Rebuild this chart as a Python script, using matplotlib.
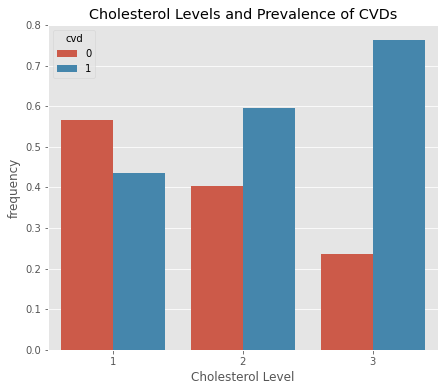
import matplotlib
matplotlib.use("Agg")
import matplotlib.pyplot as plt
import matplotlib.colors as mcolors
import colorsys
import numpy as np

plt.style.use("ggplot")

levels = ["1", "2", "3"]
cvd_labels = ["0", "1"]
freq_cvd0 = [0.565, 0.404, 0.237]
freq_cvd1 = [0.435, 0.596, 0.763]
base_colors = ["#E24A33", "#348ABD"]


def desaturate(c, prop=0.75):
    r, g, b = mcolors.to_rgb(c)
    h, l, s = colorsys.rgb_to_hls(r, g, b)
    return colorsys.hls_to_rgb(h, l, s * prop)


colors = [desaturate(c) for c in base_colors]

fig = plt.figure(figsize=(444/72, 391/72), dpi=72)
ax = fig.add_axes([0.108, 0.105, 0.878, 0.831])

x = np.arange(len(levels))
w = 0.4
ax.bar(x - w/2, freq_cvd0, width=w, color=colors[0], label=cvd_labels[0])
ax.bar(x + w/2, freq_cvd1, width=w, color=colors[1], label=cvd_labels[1])
ax.set_xticks(x)
ax.set_xticklabels(levels)
ax.set_xlim(-0.5, 2.5)
ax.set_ylim(0, 0.8)
ax.set_yticks(np.arange(0, 0.81, 0.1))
ax.grid(axis="x", visible=False)
ax.set_xlabel("Cholesterol Level")
ax.set_ylabel("frequency")
ax.set_title("Cholesterol Levels and Prevalence of CVDs")
ax.legend(title="cvd", loc="upper left")

fig.savefig("out.png", dpi=72)
